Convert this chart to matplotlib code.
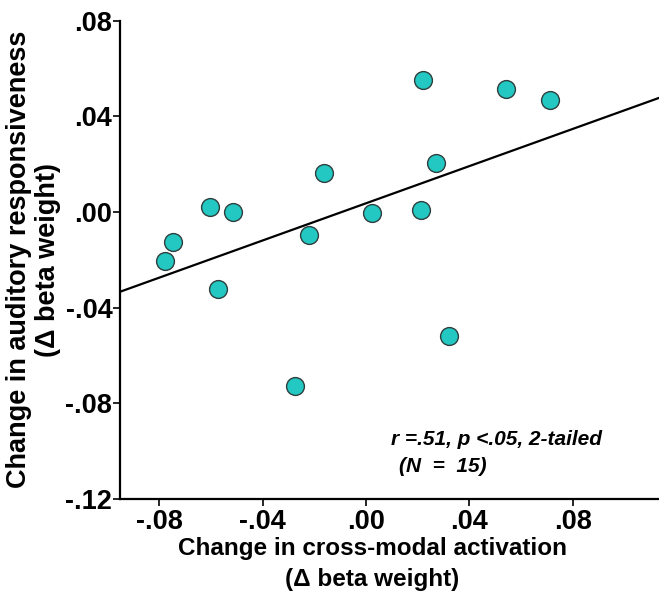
import matplotlib
matplotlib.use("Agg")
import matplotlib.pyplot as plt
import numpy as np

plt.rcParams["font.family"] = ["Liberation Sans", "DejaVu Sans"]
plt.rcParams["font.weight"] = "bold"

# Change in cross-modal activation vs change in auditory responsiveness
cross_modal = [-0.0777, -0.0746, -0.0603, -0.0514, -0.0573, -0.0275, -0.0222, -0.0162,
               0.0022, 0.0213, 0.0222, 0.0271, 0.0321, 0.0541, 0.0712]
auditory = [-0.0204, -0.0126, 0.0022, 0.0, -0.0322, -0.0728, -0.0096, 0.0162,
            -0.0004, 0.0009, 0.0550, 0.0206, -0.0517, 0.0512, 0.0466]

x_ticks = [-0.08, -0.04, 0.0, 0.04, 0.08]
x_labels = ["-.08", "-.04", ".00", ".04", ".08"]
y_ticks = [0.08, 0.04, 0.0, -0.04, -0.08, -0.12]
y_labels = [".08", ".04", ".00", "-.04", "-.08", "-.12"]

fig = plt.figure(figsize=(6.59, 6.04), dpi=100)
ax = fig.add_axes([0.182, 0.174, 0.818, 0.792])

xlim = (-0.0952, 0.1133)
ax.set_xlim(*xlim)
ax.set_ylim(-0.12, 0.08)

# least squares fit line
slope, intercept = np.polyfit(cross_modal, auditory, 1)
xs = np.array(xlim)
ax.plot(xs, slope * xs + intercept, color="black", lw=1.6, zorder=2)

ax.scatter(cross_modal, auditory, s=165, color="#22c8c1", edgecolor="#2f3f3f",
           linewidth=1.0, zorder=3)

ax.set_xticks(x_ticks)
ax.set_xticklabels(x_labels)
ax.set_yticks(y_ticks)
ax.set_yticklabels(y_labels)
ax.tick_params(axis="both", labelsize=19.5, length=5, width=1.2)
ax.tick_params(axis="y", pad=0.5)
ax.tick_params(axis="x", pad=2)

for side in ["top", "right"]:
    ax.spines[side].set_visible(False)
for side in ["left", "bottom"]:
    ax.spines[side].set_linewidth(1.6)

ax.set_xlabel("Change in cross-modal activation\n(\u0394 beta weight)", fontsize=17.5,
              fontweight="bold", linespacing=1.45)
ax.xaxis.set_label_coords(0.468, -0.08, transform=ax.transAxes)
ax.xaxis.label.set_va("top")
ax.set_ylabel("Change in auditory responsiveness\n(\u0394 beta weight)", fontsize=19.5,
              fontweight="bold", linespacing=1.15)
ax.yaxis.label.set_va("center")
ax.yaxis.set_label_coords(-0.161, 0.5, transform=ax.transAxes)

ax.text(0.502, 0.124, "r =.51, p <.05, 2-tailed", transform=ax.transAxes, fontsize=15,
        fontweight="bold", style="italic", ha="left", va="center")
ax.text(0.518, 0.068, "(N  =  15)", transform=ax.transAxes, fontsize=15,
        fontweight="bold", style="italic", ha="left", va="center")

fig.savefig("out.png", dpi=100)
